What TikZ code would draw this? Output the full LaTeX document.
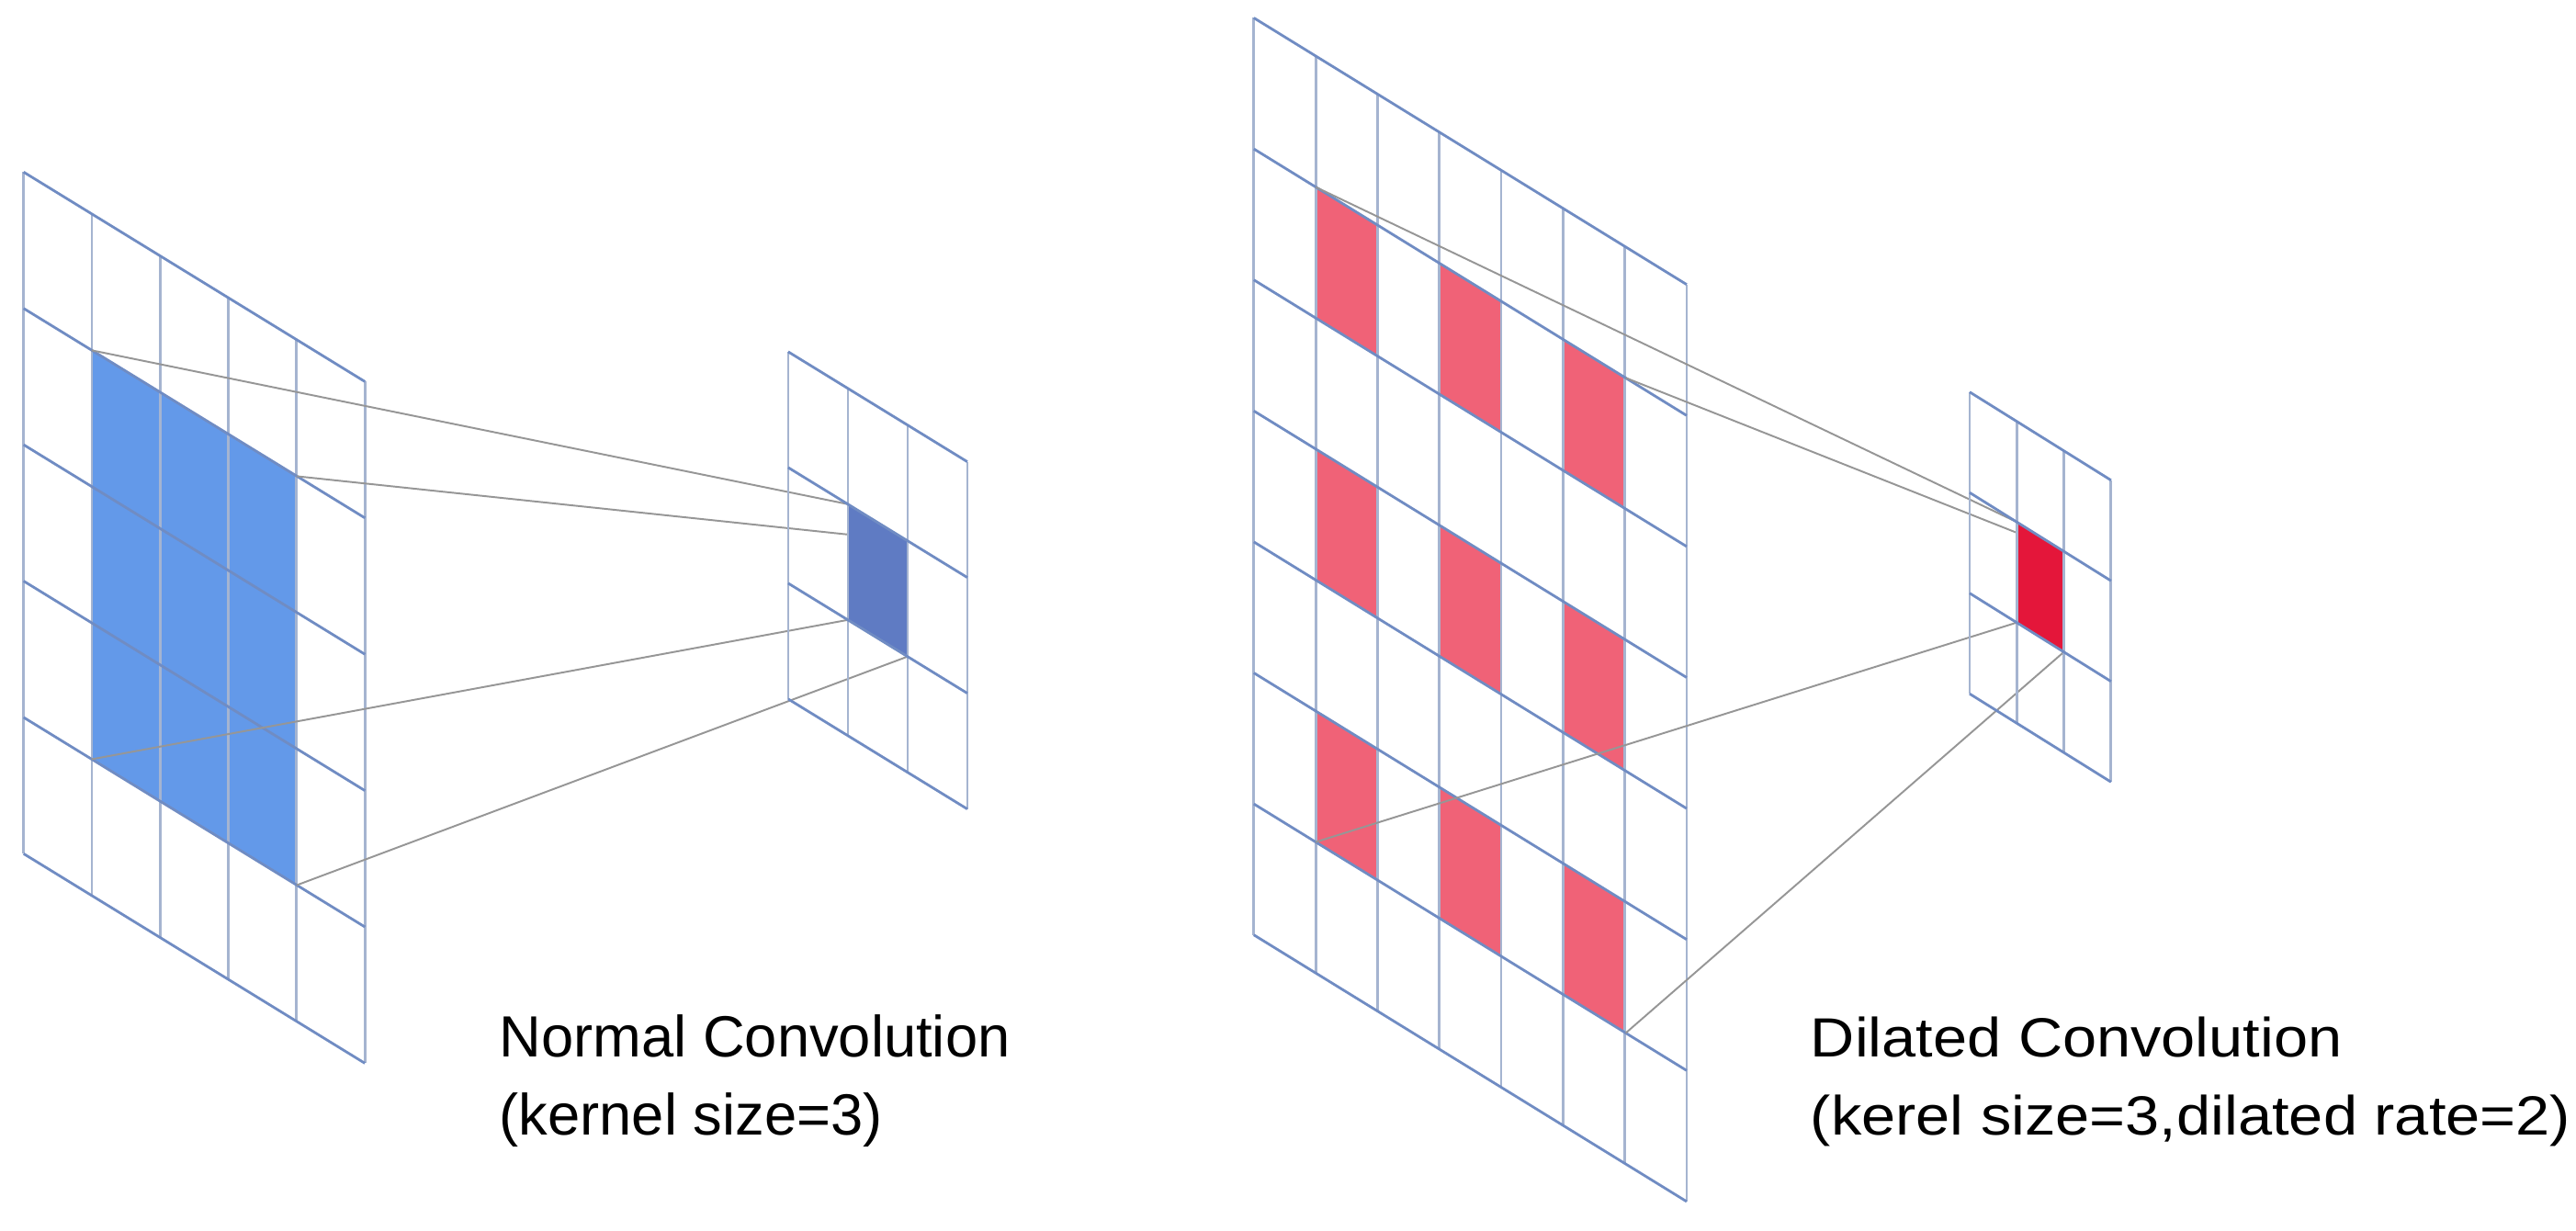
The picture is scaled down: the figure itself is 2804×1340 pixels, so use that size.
\documentclass[tikz,border=0pt]{standalone}
\usepackage{fontspec}
\setmainfont{Liberation Sans}
\definecolor{hlc}{RGB}{112,140,195}
\definecolor{vlc}{RGB}{165,180,208}
\definecolor{bigblue}{RGB}{99,153,233}
\definecolor{smallblue}{RGB}{95,123,195}
\definecolor{pinkred}{RGB}{240,98,119}
\definecolor{deepred}{RGB}{228,22,58}
\definecolor{linkc}{RGB}{150,150,150}
\newcommand{\mygrid}[7]{%
  \foreach \i in {0,...,#6} \draw[vl] ({#1+\i*#3},{#2+\i*#3*#5}) -- ++(0,{#7*#4});
  \foreach \j in {0,...,#7} \draw[hl] (#1,{#2+\j*#4}) -- ++({#6*#3},{#6*#3*#5});
}
\newcommand{\mycell}[8]{%
  \fill[#8] ({#1+#6*#3},{#2+#7*#4+#6*#3*#5}) -- ++(#3,{#3*#5}) -- ++(0,#4) -- ++(-#3,{-#3*#5}) -- cycle;
}
\begin{document}
\begin{tikzpicture}[x=0.01cm,y=-0.01cm,
  hl/.style={draw=hlc,line width=0.8pt},
  vl/.style={draw=vlc,line width=0.8pt},
  link/.style={draw=linkc,line width=0.55pt},
  lbl/.style={anchor=base west,inner sep=0pt,font=\fontsize{18}{22}\selectfont},
  lbln/.style={anchor=base west,inner sep=0pt,font=\fontsize{17.1}{21}\selectfont,xscale=1.11}]
\useasboundingbox[fill=white] (0,0) rectangle (2804,1340);
% ---- left big grid
\foreach \c in {1,2,3} \foreach \r in {1,2,3}
  {\mycell{25.7}{187.3}{74.3}{148.4}{0.614}{\c}{\r}{bigblue}}
\mygrid{25.7}{187.3}{74.3}{148.4}{0.614}{5}{5}
\coordinate (a1) at (99.6,381.3);
\coordinate (a2) at (322.8,518.4);
\coordinate (a3) at (99.6,826.5);
\coordinate (a4) at (322.8,963.6);
\coordinate (b1) at (922.9,548.8);
\coordinate (b2) at (987.9,588.7);
\coordinate (b3) at (922.9,674.8);
\coordinate (b4) at (987.9,714.7);
\draw[link] (a1) -- (b1);
\draw[link] (a2) -- (b2);
\draw[link] (a3) -- (b3);
\draw[link] (a4) -- (b4);
\mycell{857.9}{382.9}{65}{126}{0.614}{1}{1}{smallblue}
\mygrid{857.9}{382.9}{65}{126}{0.614}{3}{3}
% ---- right big grid
\foreach \c in {1,3,5} \foreach \r in {1,3,5}
  {\mycell{1364.8}{19.5}{67.3}{142.6}{0.616}{\c}{\r}{pinkred}}
\mygrid{1364.8}{19.5}{67.3}{142.6}{0.616}{7}{7}
\coordinate (c1) at (1432.1,203.6);
\coordinate (c2) at (1769.7,411.4);
\coordinate (c3) at (1432.1,916.6);
\coordinate (c4) at (1769.7,1124.4);
\coordinate (d1) at (2195.2,568.2);
\coordinate (d2) at (2246.5,600.2);
\coordinate (d3) at (2195.2,677.7);
\coordinate (d4) at (2246.5,709.7);
\draw[link] (c1) -- (d1);
\draw[link] (c2) -- (d2);
\draw[link] (c3) -- (d3);
\draw[link] (c4) -- (d4);
\mycell{2143.9}{426.7}{51.3}{109.5}{0.624}{1}{1}{deepred}
\mygrid{2143.9}{426.7}{51.3}{109.5}{0.624}{3}{3}
% ---- labels
\node[lbl] (n1) at (543,1150) {Normal Convolution};
\node[lbl] (n2) at (543,1235) {(kernel size=3)};
\node[lbln] (m1) at (1970,1150) {Dilated Convolution};
\node[lbln] (m2) at (1970,1235) {(kerel size=3,dilated rate=2)};
\end{tikzpicture}
\end{document}
